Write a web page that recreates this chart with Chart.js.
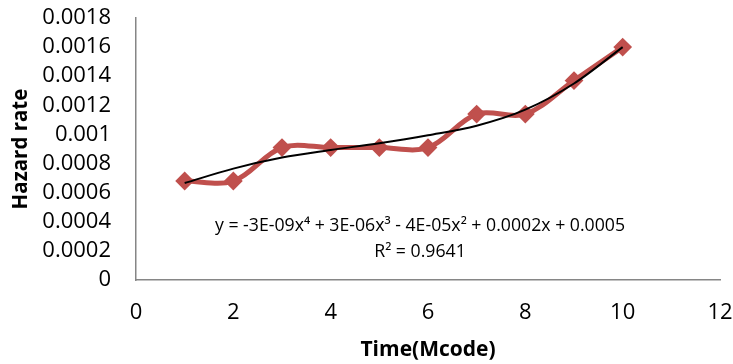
<!DOCTYPE html>
<html>
<head>
<meta charset="utf-8">
<script src="https://cdn.jsdelivr.net/npm/chart.js@4"></script>
<style>
html,body{margin:0;padding:0;background:#fff;}
#wrap{position:relative;width:733px;height:364px;}
</style>
</head>
<body>
<div id="wrap"><canvas id="c" width="733" height="364"></canvas></div>
<script>
const timeValues = [1, 2, 3, 4, 5, 6, 7, 8, 9, 10];
const hazardRates = [0.00068, 0.00068, 0.00091, 0.00091, 0.00091, 0.00091, 0.00114, 0.00114, 0.00137, 0.0016];
const trendValues = [0.000666, 0.000765, 0.000841, 0.000893, 0.00094, 0.000995, 0.00106, 0.00117, 0.00135, 0.0016];
const yTickLabels = ['0', '0.0002', '0.0004', '0.0006', '0.0008', '0.001', '0.0012', '0.0014', '0.0016', '0.0018'];
const xTickLabels = ['0', '2', '4', '6', '8', '10', '12'];
const equationText = 'y = -3E-09x\u2074 + 3E-06x\u00B3 - 4E-05x\u00B2 + 0.0002x + 0.0005';
const r2Text = 'R\u00B2 = 0.9641';

const FONT = "'Open Sans', 'Noto Sans', sans-serif";
const axisColor = '#868686';

const eqPlugin = {
  id: 'eq',
  afterDatasetsDraw(chart) {
    const {ctx} = chart;
    ctx.save();
    ctx.fillStyle = '#000';
    ctx.font = "17.7px " + FONT;
    ctx.textAlign = 'center';
    ctx.textBaseline = 'middle';
    const cx = 420;
    ctx.fillText(equationText, cx, 226);
    ctx.fillText(r2Text, cx, 252);
    ctx.restore();
  }
};

const chart = new Chart(document.getElementById('c'), {
  type: 'line',
  data: {
    datasets: [
      {
        label: 'Trend',
        data: timeValues.map((x, i) => ({x: x, y: trendValues[i]})),
        borderColor: '#000',
        borderWidth: 2,
        pointRadius: 0,
        cubicInterpolationMode: 'monotone',
        fill: false,
        order: 0
      },
      {
        label: 'Hazard rate',
        data: timeValues.map((x, i) => ({x: x, y: hazardRates[i]})),
        borderColor: '#C0504D',
        backgroundColor: '#C0504D',
        borderWidth: 5,
        tension: 0.35,
        pointStyle: 'rectRot',
        pointRadius: 8,
        pointBorderWidth: 2,
        pointBackgroundColor: '#C0504D',
        pointBorderColor: '#C0504D',
        fill: false,
        order: 1
      }
    ]
  },
  options: {
    responsive: false,
    animation: false,
    devicePixelRatio: 1,
    layout: {padding: {left: 0, right: 13, top: 18, bottom: 0}},
    plugins: {legend: {display: false}, tooltip: {enabled: false}},
    scales: {
      x: {
        type: 'linear',
        min: 0, max: 12,
        afterFit(s) { s.height = 84; s.paddingLeft = 0; s.paddingRight = 0; s.paddingTop = 0; s.paddingBottom = 0; },
        grid: {display: true, drawOnChartArea: false, drawTicks: false},
        border: {display: true, color: axisColor, width: 1.5},
        ticks: {
          stepSize: 2,
          padding: 20,
          autoSkip: false,
          maxRotation: 0,
          color: '#000',
          font: {family: FONT, size: 22},
          callback: (v) => xTickLabels[Math.round(v / 2)]
        },
        title: {
          display: true, text: 'Time(Mcode)', color: '#000',
          font: {family: FONT, size: 21, weight: 'bold'},
          padding: {top: 0, bottom: 1}
        }
      },
      y: {
        min: 0, max: 0.0018,
        afterFit(s) { s.width = 136; s.paddingLeft = 0; s.paddingRight = 0; s.paddingTop = 0; s.paddingBottom = 0; },
        grid: {display: true, drawOnChartArea: false, drawTicks: false},
        border: {display: true, color: axisColor, width: 1.5},
        ticks: {
          stepSize: 0.0002,
          padding: 25,
          autoSkip: false,
          color: '#000',
          font: {family: FONT, size: 22},
          callback: (v) => yTickLabels[Math.round(v / 0.0002)]
        },
        title: {
          display: true, text: 'Hazard rate', color: '#000',
          font: {family: FONT, size: 20.5, weight: 'bold'},
          padding: {top: 9, bottom: 0}
        }
      }
    }
  },
  plugins: [eqPlugin]
});
</script>
</body>
</html>
